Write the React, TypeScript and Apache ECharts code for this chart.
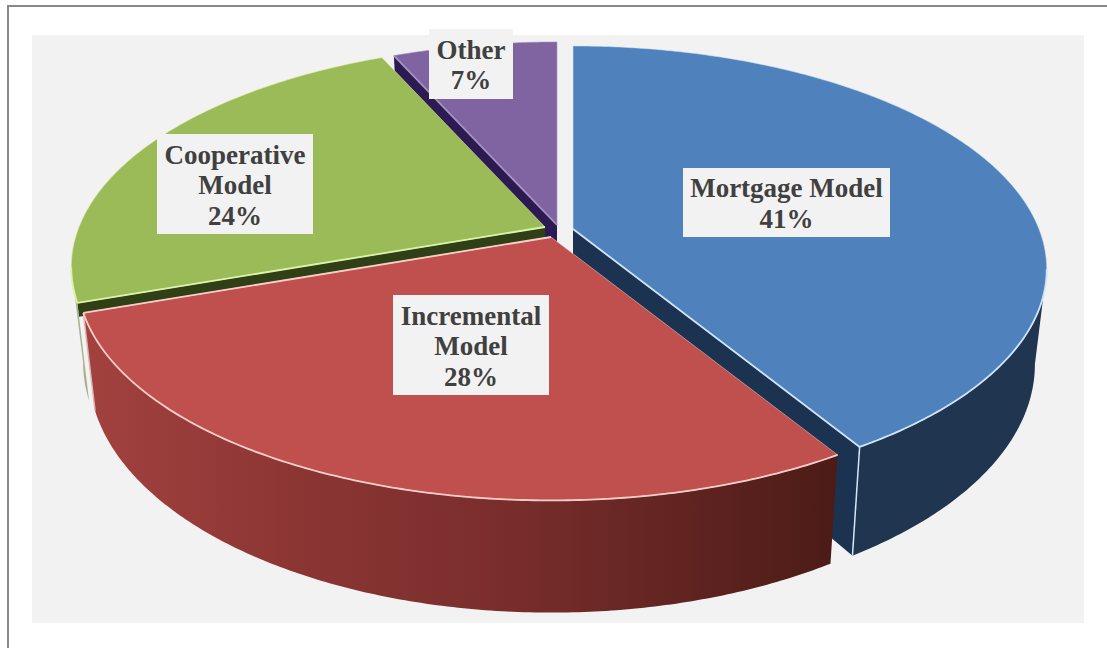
import React, { useEffect, useRef } from "react";
import * as echarts from "echarts";

const CATEGORIES = ["Mortgage Model", "Incremental\nModel", "Cooperative\nModel", "Other"];
const SHARES = [41, 28, 24, 7];
const PAINT_ORDER = [3, 2, 0, 1];

const TOP_COLORS = ["#4f81bd", "#c0504d", "#9bbb59", "#8064a2"];
const RIM_COLORS = ["#cfe5f7", "#f6cdc9", "#dcf2a8", "#a793c0"];
const SIDE_COLORS = ["#1f3550", "#7a2f2d", "#a9b08f", "#2b1b52"];
const CUT_COLORS = ["#1b3350", "#4f1c18", "#2f4016", "#2b1b52"];
const CUT_DEPTH = [1, 1, 0.14, 1];
const APEXES = [[573, 229], [551, 237], [545, 227], [557, 225]];
const LABEL_BOXES = [[683, 168, 207, 69], [393, 295, 156, 100], [157, 134, 156, 100], [429, 29, 84, 70]];
// The drawn perspective turns each inner boundary slightly on the page.
const BOUNDARY_TURN = [0, 0.018, 0.04, 0.02, 0];

const RX = 466, RY = 216, PERSPECTIVE = 0.18, DEPTH = 92, LOW_SCALE = 0.975;

const total = SHARES.reduce((a, b) => a + b, 0);
const toAngle = (share: number) => (share / total) * Math.PI * 2;
const BOUNDS = [0, ...SHARES.map((_, i) => toAngle(SHARES.slice(0, i + 1).reduce((a, b) => a + b, 0)))].map(
  (t, i) => t + BOUNDARY_TURN[i]
);
const STARTS = SHARES.map((_, i) => BOUNDS[i]);
const ENDS = SHARES.map((_, i) => BOUNDS[i + 1]);

function topPoint(i: number, t: number) {
  const u = Math.sin(t), v = -Math.cos(t), s = 1 / (1 - PERSPECTIVE * v);
  return [APEXES[i][0] + RX * u * s, APEXES[i][1] + RY * v * s];
}
function lowPoint(i: number, t: number) {
  const u = Math.sin(t), v = -Math.cos(t), s = 1 / (1 - PERSPECTIVE * v);
  return [APEXES[i][0] + RX * u * s * LOW_SCALE, APEXES[i][1] + RY * v * s + DEPTH * s];
}
function arc(fn: (i: number, t: number) => number[], i: number, a: number, b: number) {
  const n = Math.max(2, Math.ceil(Math.abs(b - a) / 0.01));
  const pts: number[][] = [];
  for (let k = 0; k <= n; k++) pts.push(fn(i, a + ((b - a) * k) / n));
  return pts;
}

function renderSlice(_params: any, api: any) {
  const i = api.value(0) as number;
  const a = STARTS[i], b = ENDS[i];
  const children: any[] = [];
  const cut = (t: number) => {
    const top = topPoint(i, t), low = lowPoint(i, t), d = CUT_DEPTH[i];
    children.push({
      type: "polygon",
      shape: {
        points: [
          APEXES[i],
          top,
          [top[0] + (low[0] - top[0]) * d, top[1] + (low[1] - top[1]) * d],
          [APEXES[i][0], APEXES[i][1] + DEPTH * d],
        ],
      },
      style: { fill: CUT_COLORS[i] },
    });
  };
  if (Math.sin(a) < -1e-6) cut(a);
  if (Math.sin(b) > 1e-6) cut(b);

  // Visible front part of the outer wall: where the rim faces the viewer.
  const lim = Math.asin(PERSPECTIVE);
  const f0 = Math.max(a, Math.PI / 2 + lim), f1 = Math.min(b, (3 * Math.PI) / 2 - lim);
  if (f1 > f0) {
    const top = arc(topPoint, i, f0, f1);
    const low = arc(lowPoint, i, f1, f0);
    const fill = i === 1
      ? new echarts.graphic.LinearGradient(0, 0, 1, 0, [
          { offset: 0, color: "#a2423f" },
          { offset: 0.3, color: "#8a3533" },
          { offset: 0.55, color: "#7a2e2c" },
          { offset: 0.82, color: "#5e2320" },
          { offset: 1, color: "#4c1b17" },
        ])
      : SIDE_COLORS[i];
    children.push({ type: "polygon", shape: { points: [...top, ...low] }, style: { fill } });
    if (b <= (3 * Math.PI) / 2 - lim && b >= Math.PI / 2 + lim) {
      children.push({
        type: "line",
        shape: { x1: topPoint(i, b)[0], y1: topPoint(i, b)[1], x2: lowPoint(i, b)[0], y2: lowPoint(i, b)[1] },
        style: { stroke: i === 0 ? "#d5e6f5" : "#d9b4b0", lineWidth: 1.5 },
      });
    }
  }

  const outline = [APEXES[i], ...arc(topPoint, i, a, b)];
  children.push({
    type: "polygon",
    shape: { points: outline },
    style: { fill: TOP_COLORS[i], stroke: RIM_COLORS[i], lineWidth: 1, strokeOpacity: 0.55 },
  });
  if (f1 > f0) {
    children.push({
      type: "polyline",
      shape: { points: arc(topPoint, i, f0, f1) },
      style: { fill: "none", stroke: RIM_COLORS[i], lineWidth: 1.8 },
    });
  }
  const edge = (t: number) => {
    const p = topPoint(i, t);
    children.push({
      type: "line",
      shape: { x1: APEXES[i][0], y1: APEXES[i][1], x2: p[0], y2: p[1] },
      style: { stroke: RIM_COLORS[i], lineWidth: 1.8 },
    });
  };
  if (Math.sin(a) < -1e-6) edge(a);
  if (Math.sin(b) > 1e-6) edge(b);
  if (i === 1) edge(b);
  return { type: "group", children };
}

function renderLabel(_params: any, api: any) {
  const i = api.value(0) as number;
  const [x, y, w, h] = LABEL_BOXES[i];
  return {
    type: "group",
    children: [
      { type: "rect", shape: { x, y, width: w, height: h }, style: { fill: "#f2f2f2" } },
      {
        type: "text",
        style: {
          text: `${CATEGORIES[i]}\n${SHARES[i]}%`,
          x: x + w / 2,
          y: y + h / 2 + 1,
          align: "center",
          verticalAlign: "middle",
          font: 'bold 27px "Liberation Serif"',
          lineHeight: 30.5,
          fill: "#404040",
        },
      },
    ],
  };
}

export default function App() {
  const ref = useRef<HTMLDivElement>(null);
  useEffect(() => {
    const chart = echarts.init(ref.current!, null, { renderer: "svg" });
    chart.setOption({
      animation: false,
      backgroundColor: "#ffffff",
      graphic: [
        { type: "rect", z: -1, silent: true, shape: { x: 32, y: 35, width: 1052, height: 588 }, style: { fill: "#f2f2f2" } },
        { type: "polyline", z: -1, silent: true, shape: { points: [[8, 648], [8, 6], [1107, 6]] }, style: { fill: "none", stroke: "#888888", lineWidth: 2 } },
      ],
      series: [
        { type: "custom", coordinateSystem: "none", silent: true, z: 2, renderItem: renderSlice, data: PAINT_ORDER.map((i) => [i, SHARES[i]]) },
        { type: "custom", coordinateSystem: "none", silent: true, z: 3, renderItem: renderLabel, data: SHARES.map((s, i) => [i, s]) },
      ],
    });
    return () => chart.dispose();
  }, []);
  return <div ref={ref} style={{ position: "fixed", left: 0, top: 0, width: 1107, height: 648 }} />;
}
